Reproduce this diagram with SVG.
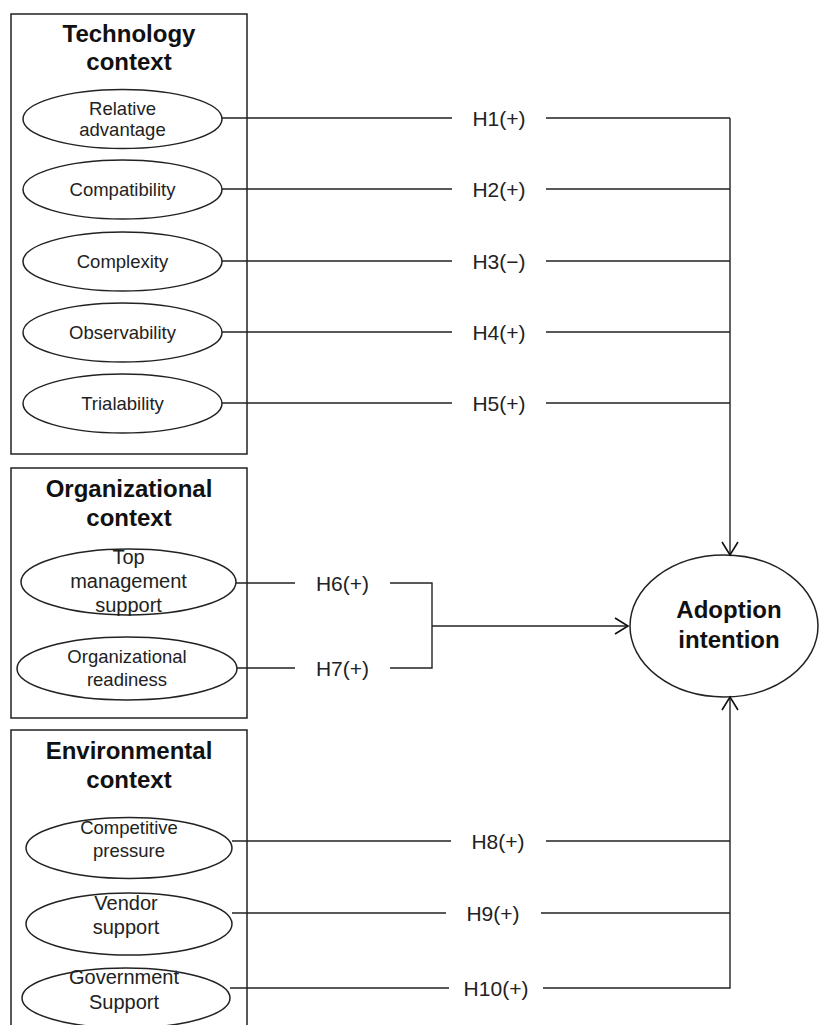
<svg xmlns="http://www.w3.org/2000/svg" width="820" height="1025" viewBox="0 0 820 1025">
<style>
.box{fill:#fff;stroke:#222;stroke-width:1.5}
.ell{fill:#fff;stroke:#222;stroke-width:1.5}
.title{font-family:"Liberation Sans",Arial,sans-serif;font-weight:bold;font-size:24px;fill:#111;text-anchor:middle}
.t{font-family:"Liberation Sans",Arial,sans-serif;font-size:18.5px;fill:#222;text-anchor:middle}
.t2{font-family:"Liberation Sans",Arial,sans-serif;font-size:20px;fill:#222;text-anchor:middle}
.h{font-family:"Liberation Sans",Arial,sans-serif;font-size:21px;fill:#222;text-anchor:middle}
.c{fill:none;stroke:#222;stroke-width:1.4}
</style>
<defs>
<marker id="arr" viewBox="-14 -9 16 18" refX="0" refY="0" markerWidth="16" markerHeight="18" markerUnits="userSpaceOnUse" orient="auto">
<path d="M-13,-8 L0,0 L-13,8" fill="none" stroke="#111" stroke-width="1.6"/>
</marker>
</defs>
<rect width="820" height="1025" fill="#fff"/>

<g id="technology-context">
<rect class="box" x="11" y="14" width="236" height="440"/>
<text class="title" x="129" y="42">Technology</text>
<text class="title" x="129" y="70">context</text>
</g>
<g id="relative-advantage">
<ellipse class="ell" cx="122.5" cy="119" rx="99.5" ry="29.5"/>
<text class="t" x="122.5" y="115">Relative</text>
<text class="t" x="122.5" y="136">advantage</text>
</g>
<g id="compatibility">
<ellipse class="ell" cx="122.5" cy="189.5" rx="99.5" ry="29.5"/>
<text class="t" x="122.5" y="196">Compatibility</text>
</g>
<g id="complexity">
<ellipse class="ell" cx="122.5" cy="261.5" rx="99.5" ry="29.5"/>
<text class="t" x="122.5" y="268">Complexity</text>
</g>
<g id="observability">
<ellipse class="ell" cx="122.5" cy="332.5" rx="99.5" ry="29.5"/>
<text class="t" x="122.5" y="339">Observability</text>
</g>
<g id="trialability">
<ellipse class="ell" cx="122.5" cy="403.5" rx="99.5" ry="29.5"/>
<text class="t" x="122.5" y="410">Trialability</text>
</g>

<g id="organizational-context">
<rect class="box" x="11" y="468" width="236" height="250"/>
<text class="title" x="129" y="497">Organizational</text>
<text class="title" x="129" y="526">context</text>
</g>
<g id="top-management-support">
<ellipse class="ell" cx="128.5" cy="582" rx="107.5" ry="33"/>
<text class="t2" x="128.5" y="564">Top</text>
<text class="t2" x="128.5" y="588">management</text>
<text class="t2" x="128.5" y="612">support</text>
</g>
<g id="organizational-readiness">
<ellipse class="ell" cx="127" cy="668.5" rx="110" ry="31.5"/>
<text class="t" x="127" y="663">Organizational</text>
<text class="t" x="127" y="686">readiness</text>
</g>

<g id="environmental-context">
<rect class="box" x="11" y="730" width="236" height="310"/>
<text class="title" x="129" y="759">Environmental</text>
<text class="title" x="129" y="788">context</text>
</g>
<g id="competitive-pressure">
<ellipse class="ell" cx="129" cy="848" rx="103" ry="30.5"/>
<text class="t" x="129" y="834">Competitive</text>
<text class="t" x="129" y="857">pressure</text>
</g>
<g id="vendor-support">
<ellipse class="ell" cx="129" cy="924" rx="103" ry="31"/>
<text class="t2" x="126" y="910">Vendor</text>
<text class="t2" x="126" y="934">support</text>
</g>
<g id="government-support">
<ellipse class="ell" cx="126" cy="998" rx="104" ry="30"/>
<text class="t2" x="124" y="984">Government</text>
<text class="t2" x="124" y="1009">Support</text>
</g>

<g id="adoption-intention">
<ellipse class="ell" cx="724" cy="626" rx="94" ry="71"/>
<text class="title" x="729" y="618">Adoption</text>
<text class="title" x="729" y="648">intention</text>
</g>

<g id="connectors">
<path class="c" d="M222,118 H452 M546,118 H730 M222,189 H452 M546,189 H730 M222,261 H452 M546,261 H730 M222,332 H452 M546,332 H730 M222,403 H452 M546,403 H730"/>
<path class="c" d="M730,118 V555" marker-end="url(#arr)"/>
<path class="c" d="M236,583 H295 M390,583 H432 V668 H390 M237,668 H295"/>
<path class="c" d="M432,626 H628" marker-end="url(#arr)"/>
<path class="c" d="M232,841 H451 M546,841 H730 M232,913 H446 M541,913 H730 M230,988 H449 M543,988 H730 V913"/>
<path class="c" d="M730,913 V697" stroke-width="2.2" marker-end="url(#arr)"/>
</g>

<g id="labels">
<text class="h" x="499" y="125.5">H1(+)</text>
<text class="h" x="499" y="196.5">H2(+)</text>
<text class="h" x="499" y="268.5">H3(−)</text>
<text class="h" x="499" y="339.5">H4(+)</text>
<text class="h" x="499" y="410.5">H5(+)</text>
<text class="h" x="342.5" y="590.5">H6(+)</text>
<text class="h" x="342.5" y="675.5">H7(+)</text>
<text class="h" x="498" y="848.5">H8(+)</text>
<text class="h" x="493" y="920.5">H9(+)</text>
<text class="h" x="496" y="995.5">H10(+)</text>
</g>
</svg>
